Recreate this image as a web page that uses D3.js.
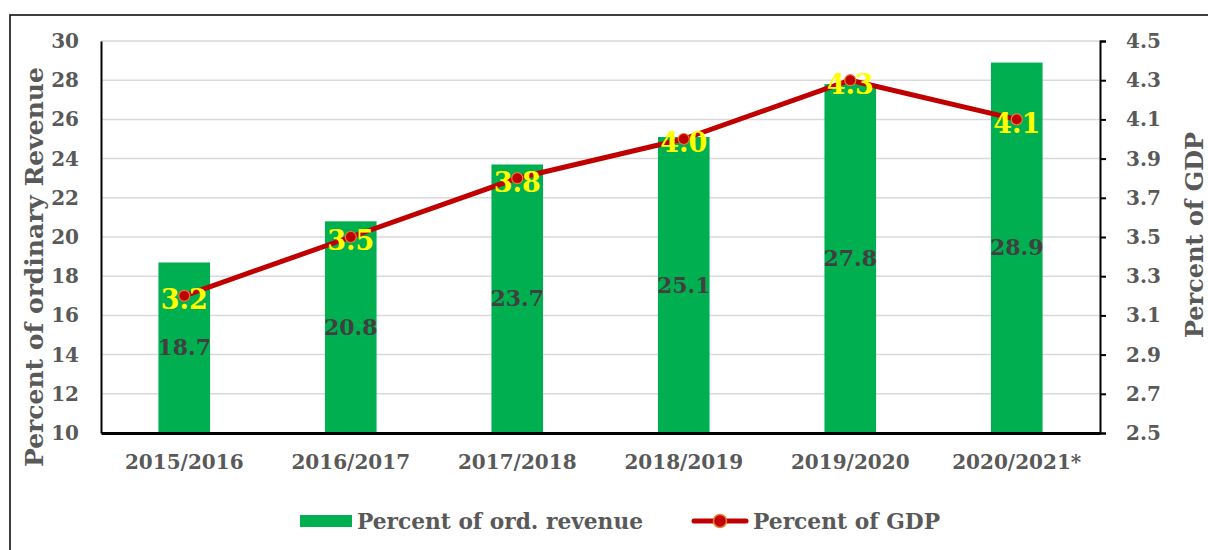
<!DOCTYPE html>
<html>
<head>
<meta charset="utf-8">
<script src="https://cdn.jsdelivr.net/npm/d3@7"></script>
<style>
  html, body { margin: 0; padding: 0; background: #fff; }
  svg { display: block; font-family: Georgia, "DejaVu Serif", serif; }
</style>
</head>
<body>
<div id="chart"></div>
<script>
// Categories and series values.
const years = ['2015/2016', '2016/2017', '2017/2018', '2018/2019', '2019/2020', '2020/2021*'];
const revenueShare = [18.7, 20.8, 23.7, 25.1, 27.8, 28.9];
const gdpShare = [3.2, 3.5, 3.8, 4.0, 4.3, 4.1];
const leftTicks = [10, 12, 14, 16, 18, 20, 22, 24, 26, 28, 30];
const rightTicks = [2.5, 2.7, 2.9, 3.1, 3.3, 3.5, 3.7, 3.9, 4.1, 4.3, 4.5];

(function(){
  const width = 1208, height = 550;
  const margin = {top: 41, right: 108, bottom: 117, left: 101};
  const innerWidth = width - margin.left - margin.right;
  const innerHeight = height - margin.top - margin.bottom;

  const barColor = '#00B050';
  const lineColor = '#C00000';
  const textGray = '#595959';
  const fontStack = 'Georgia, "DejaVu Serif", serif';

  const svg = d3.select('#chart').append('svg')
    .attr('width', width)
    .attr('height', height);

  // Outer chart frame (right and bottom edges fall outside the crop).
  svg.append('rect')
    .attr('x', 10).attr('y', 15)
    .attr('width', 1300).attr('height', 700)
    .attr('fill', 'none')
    .attr('stroke', '#000')
    .attr('stroke-width', 1.5);

  const plot = svg.append('g').attr('transform', `translate(${margin.left},${margin.top})`);

  const x = d3.scaleBand().domain(years).range([0, innerWidth]).paddingInner(0.69).paddingOuter(0.345);
  const yLeft = d3.scaleLinear().domain([10, 30]).range([innerHeight, 0]);
  const yRight = d3.scaleLinear().domain([2.5, 4.5]).range([innerHeight, 0]);

  // Gridlines.
  plot.append('g').selectAll('line')
    .data(leftTicks.slice(1))
    .join('line')
    .attr('x1', 0).attr('x2', innerWidth)
    .attr('y1', d => yLeft(d)).attr('y2', d => yLeft(d))
    .attr('stroke', '#D9D9D9').attr('stroke-width', 1.5);

  // Bars.
  plot.append('g').selectAll('rect')
    .data(revenueShare)
    .join('rect')
    .attr('x', (d, i) => x(years[i]))
    .attr('width', x.bandwidth())
    .attr('y', d => yLeft(d))
    .attr('height', d => innerHeight - yLeft(d))
    .attr('fill', barColor);

  // Bar value labels, centred in the bar.
  plot.append('g').selectAll('text')
    .data(revenueShare)
    .join('text')
    .attr('x', (d, i) => x(years[i]) + x.bandwidth() / 2)
    .attr('y', d => (yLeft(d) + innerHeight) / 2)
    .attr('dy', '0.35em')
    .attr('text-anchor', 'middle')
    .attr('font-size', 22)
    .attr('font-weight', 'bold')
    .attr('fill', '#404040')
    .text(d => d.toFixed(1));

  // Left axis.
  const leftAxis = plot.append('g')
    .call(d3.axisLeft(yLeft).tickValues(leftTicks).tickSize(0).tickPadding(22).tickFormat(d3.format('d')));
  leftAxis.select('.domain').attr('stroke', '#000').attr('stroke-width', 2);
  leftAxis.selectAll('text').attr('font-size', 20).attr('font-weight', 'bold').attr('fill', textGray)
    .attr('font-family', fontStack);

  // Right axis.
  const rightAxis = plot.append('g')
    .attr('transform', `translate(${innerWidth},0)`)
    .call(d3.axisRight(yRight).tickValues(rightTicks).tickSize(6).tickPadding(20).tickFormat(d3.format('.1f')));
  rightAxis.select('.domain').attr('stroke', '#000').attr('stroke-width', 2);
  rightAxis.selectAll('line').attr('stroke', '#000').attr('stroke-width', 2);
  rightAxis.selectAll('text').attr('font-size', 20).attr('font-weight', 'bold').attr('fill', textGray)
    .attr('font-family', fontStack);

  // Bottom axis.
  const bottomAxis = plot.append('g')
    .attr('transform', `translate(0,${innerHeight})`)
    .call(d3.axisBottom(x).tickSize(0).tickPadding(22));
  bottomAxis.select('.domain').attr('stroke', '#000').attr('stroke-width', 3);
  bottomAxis.selectAll('text').attr('font-size', 20).attr('font-weight', 'bold').attr('fill', textGray)
    .attr('font-family', fontStack);

  // Axis titles.
  svg.append('text')
    .attr('transform', `translate(43,${margin.top + innerHeight / 2 + 30}) rotate(-90)`)
    .attr('text-anchor', 'middle')
    .attr('font-size', 25).attr('font-weight', 'bold').attr('fill', textGray)
    .text('Percent of ordinary Revenue');

  svg.append('text')
    .attr('transform', `translate(1203,${margin.top + 194}) rotate(-90)`)
    .attr('text-anchor', 'middle')
    .attr('font-size', 24).attr('font-weight', 'bold').attr('fill', textGray)
    .text('Percent of GDP');

  // GDP line.
  const line = d3.line()
    .x((d, i) => x(years[i]) + x.bandwidth() / 2)
    .y(d => yRight(d));

  plot.append('path')
    .datum(gdpShare)
    .attr('d', line)
    .attr('fill', 'none')
    .attr('stroke', lineColor)
    .attr('stroke-width', 5)
    .attr('stroke-linejoin', 'round');

  // Yellow value labels on the line.
  plot.append('g').selectAll('text')
    .data(gdpShare)
    .join('text')
    .attr('x', (d, i) => x(years[i]) + x.bandwidth() / 2)
    .attr('y', d => yRight(d) + 4)
    .attr('dy', '0.35em')
    .attr('text-anchor', 'middle')
    .attr('font-size', 27)
    .attr('font-weight', 'bold')
    .attr('fill', '#FFFF00')
    .text(d => d.toFixed(1));

  // Markers.
  plot.append('g').selectAll('circle')
    .data(gdpShare)
    .join('circle')
    .attr('cx', (d, i) => x(years[i]) + x.bandwidth() / 2)
    .attr('cy', d => yRight(d))
    .attr('r', 5.5)
    .attr('fill', lineColor)
    .attr('stroke', '#ED7D31')
    .attr('stroke-width', 1.2);

  // Legend.
  const legend = svg.append('g').attr('transform', 'translate(0,521)');
  legend.append('rect')
    .attr('x', 300).attr('y', -6).attr('width', 52).attr('height', 12)
    .attr('fill', barColor);
  legend.append('text')
    .attr('x', 357).attr('y', 0).attr('dy', '0.35em')
    .attr('font-size', 23).attr('font-weight', 'bold').attr('fill', textGray)
    .attr('textLength', 286).attr('lengthAdjust', 'spacingAndGlyphs')
    .text('Percent of ord. revenue');
  legend.append('line')
    .attr('x1', 694).attr('x2', 746).attr('y1', 0).attr('y2', 0)
    .attr('stroke', lineColor).attr('stroke-width', 5).attr('stroke-linecap', 'round');
  legend.append('circle')
    .attr('cx', 720).attr('cy', 0).attr('r', 6.5)
    .attr('fill', lineColor).attr('stroke', '#ED7D31').attr('stroke-width', 1.5);
  legend.append('text')
    .attr('x', 753).attr('y', 0).attr('dy', '0.35em')
    .attr('font-size', 23).attr('font-weight', 'bold').attr('fill', textGray)
    .attr('textLength', 187).attr('lengthAdjust', 'spacingAndGlyphs')
    .text('Percent of GDP');
})();
</script>
</body>
</html>
